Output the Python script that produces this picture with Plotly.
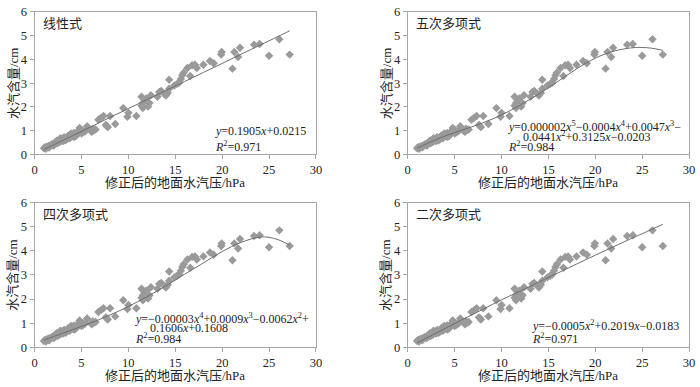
import plotly.graph_objects as go

# ---- data ----
pressure = [1.0,1.1,1.2,1.3,1.4,1.5,1.6,1.7,1.8,1.9,2.0,2.1,2.2,2.3,2.4,2.5,2.6,2.7,2.8,2.9,
            3.0,3.1,3.2,3.3,3.4,3.5,3.6,3.7,3.8,3.9,4.0,4.1,4.2,4.3,4.4,4.5,4.6,4.8,4.9,5.0,
            5.1,5.2,5.4,2.35,2.75,3.15,3.55,1.55,2.05,2.55,3.05,3.75,4.25,
            5.6,6.0,6.1,6.2,6.3,6.5,6.8,7.1,7.35,7.6,7.8,7.7,8.05,8.6,9.45,9.9,10.0,10.85,
            11.4,11.55,11.55,11.4,11.7,11.9,12.1,12.25,12.4,13.1,13.3,13.5,13.8,14.0,14.2,
            14.35,14.35,14.9,15.2,15.4,15.6,15.75,15.9,16.3,16.6,16.8,17.1,17.3,18.0,18.7,
            19.1,19.9,19.95,21.1,21.3,21.7,21.9,23.4,24.0,25.0,26.1,27.2]
vapour = [0.26,0.30,0.24,0.33,0.31,0.36,0.34,0.38,0.42,0.40,0.45,0.43,0.48,0.52,0.47,0.55,0.60,0.53,0.64,0.58,
          0.66,0.62,0.68,0.60,0.70,0.66,0.75,0.82,0.72,0.88,0.80,0.76,0.90,0.84,0.78,0.92,0.86,1.11,0.95,0.88,
          1.01,0.93,0.98,0.58,0.68,0.72,0.78,0.29,0.38,0.50,0.57,0.68,0.74,
          1.19,1.00,0.95,1.08,1.02,1.05,1.46,1.55,1.62,1.24,1.15,1.20,1.62,1.28,1.95,1.59,1.75,1.62,
          2.05,1.95,2.16,2.43,2.29,2.35,2.02,2.16,2.49,2.43,2.63,2.67,2.56,2.48,2.59,
          3.14,2.76,2.90,2.97,3.02,3.17,3.33,3.44,3.64,3.30,3.75,3.77,3.64,3.77,3.93,
          3.84,4.20,4.31,3.61,4.31,4.10,4.49,4.62,4.65,4.15,4.85,4.20]

fit_x = [1, 2, 4, 6, 8, 10, 12, 14, 16, 18, 20, 22, 24, 25, 26, 27.2]
fit_linear = [0.21, 0.40, 0.78, 1.16, 1.55, 1.93, 2.31, 2.69, 3.07, 3.45, 3.83, 4.21, 4.59, 4.78, 4.97, 5.20]
fit_quint = [0.27, 0.45, 0.78, 1.05, 1.33, 1.66, 2.08, 2.55, 3.07, 3.60, 4.05, 4.35, 4.49, 4.50, 4.47, 4.38]
fit_quart = [0.30, 0.44, 0.72, 1.01, 1.33, 1.69, 2.10, 2.55, 3.03, 3.50, 3.97, 4.35, 4.57, 4.56, 4.46, 4.24]
fit_quad = [0.18, 0.38, 0.78, 1.18, 1.57, 1.97, 2.33, 2.71, 3.08, 3.45, 3.82, 4.18, 4.54, 4.71, 4.89, 5.10]

panel_titles = ["线性式", "五次多项式", "四次多项式", "二次多项式"]
equations = [
    ["<i>y</i>=0.1905<i>x</i>+0.0215", "<i>R</i><sup>2</sup>=0.971"],
    ["<i>y</i>=0.000002<i>x</i><sup>5</sup>−0.0004<i>x</i><sup>4</sup>+0.0047<i>x</i><sup>3</sup>−",
     "0.0441<i>x</i><sup>2</sup>+0.3125<i>x</i>−0.0203", "<i>R</i><sup>2</sup>=0.984"],
    ["<i>y</i>=−0.00003<i>x</i><sup>4</sup>+0.0009<i>x</i><sup>3</sup>−0.0062<i>x</i><sup>2</sup>+",
     "0.1606<i>x</i>+0.1608", "<i>R</i><sup>2</sup>=0.984"],
    ["<i>y</i>=−0.0005<i>x</i><sup>2</sup>+0.2019<i>x</i>−0.0183", "<i>R</i><sup>2</sup>=0.971"],
]
x_title = "修正后的地面水汽压/hPa"
y_title = "水汽含量/cm"
x_ticks = [0, 5, 10, 15, 20, 25, 30]
y_ticks = [0, 1, 2, 3, 4, 5, 6]

# ---- layout (pixels) ----
W, H = 700, 387
def px(x):
    return x / W
def py(y):
    return 1 - y / H

panels = [  # left, right, top, bottom in px
    (32, 317, 5, 153),
    (410, 695, 5, 153),
    (32, 317, 203, 353),
    (410, 695, 203, 353),
]
fits = [fit_linear, fit_quint, fit_quart, fit_quad]
eq_pos = [
    (213, 213, [129, 145]),
    (510, 525, [124, 134.5, 145]),
    (132, 147, [323, 333.5, 344]),
    (534, 534, [330, 344]),
]

SERIF = "Liberation Serif, Times New Roman, serif"
CJK = "Liberation Serif, Noto Sans CJK SC, serif"

fig = go.Figure()
annotations = []
layout_axes = {}
for i, (l, r, t, b) in enumerate(panels):
    n = "" if i == 0 else str(i + 1)
    xa, ya = "x" + n, "y" + n
    fig.add_trace(go.Scatter(x=pressure, y=vapour, mode="markers", xaxis=xa, yaxis=ya,
                             marker=dict(symbol="diamond", size=6.5, color="#9a9a9a"),
                             showlegend=False, hoverinfo="skip"))
    fig.add_trace(go.Scatter(x=fit_x, y=fits[i], mode="lines", xaxis=xa, yaxis=ya,
                             line=dict(color="#6e6e6e", width=1, shape="spline"),
                             showlegend=False, hoverinfo="skip"))
    common = dict(showline=True, linecolor="#a6a6a6", linewidth=1, mirror=True,
                  ticks="outside", ticklen=4, tickcolor="#a6a6a6", showgrid=False,
                  zeroline=False, tickfont=dict(family=SERIF, size=12.5, color="#222"))
    layout_axes["xaxis" + n] = dict(domain=[px(l), px(r)], range=[0, 30], tickvals=x_ticks,
                                    anchor=ya, **common)
    layout_axes["yaxis" + n] = dict(domain=[py(b), py(t)], range=[0, 6], tickvals=y_ticks,
                                    anchor=xa, **common)
    annotations.append(dict(text=panel_titles[i], x=px(l + 6), y=py(t + 12), xref="paper", yref="paper",
                            xanchor="left", yanchor="middle", showarrow=False,
                            font=dict(family=CJK, size=13, color="#222")))
    annotations.append(dict(text=x_title, x=px((l + r) / 2), y=py(b + 29), xref="paper", yref="paper",
                            xanchor="center", yanchor="middle", showarrow=False,
                            font=dict(family=CJK, size=13, color="#222")))
    annotations.append(dict(text=y_title, x=px(l - 22), y=py((t + b) / 2), xref="paper", yref="paper",
                            xanchor="center", yanchor="middle", showarrow=False, textangle=-90,
                            font=dict(family=CJK, size=13, color="#222")))
    x0, x1, ys = eq_pos[i]
    lines = equations[i]
    for k, (txt, yy) in enumerate(zip(lines, ys)):
        xx = x0 if (k == 0 or k == len(lines) - 1) else x1
        annotations.append(dict(text=txt, x=px(xx), y=py(yy), xref="paper", yref="paper",
                                xanchor="left", yanchor="middle", showarrow=False,
                                font=dict(family=SERIF, size=12, color="#222")))

fig.update_layout(width=W, height=H, margin=dict(l=0, r=0, t=0, b=0),
                  paper_bgcolor="white", plot_bgcolor="white",
                  annotations=annotations, **layout_axes)
fig.write_html("out.html", config={"displayModeBar": False},
               post_script="document.body.style.margin='0';document.body.style.overflow='hidden';")
